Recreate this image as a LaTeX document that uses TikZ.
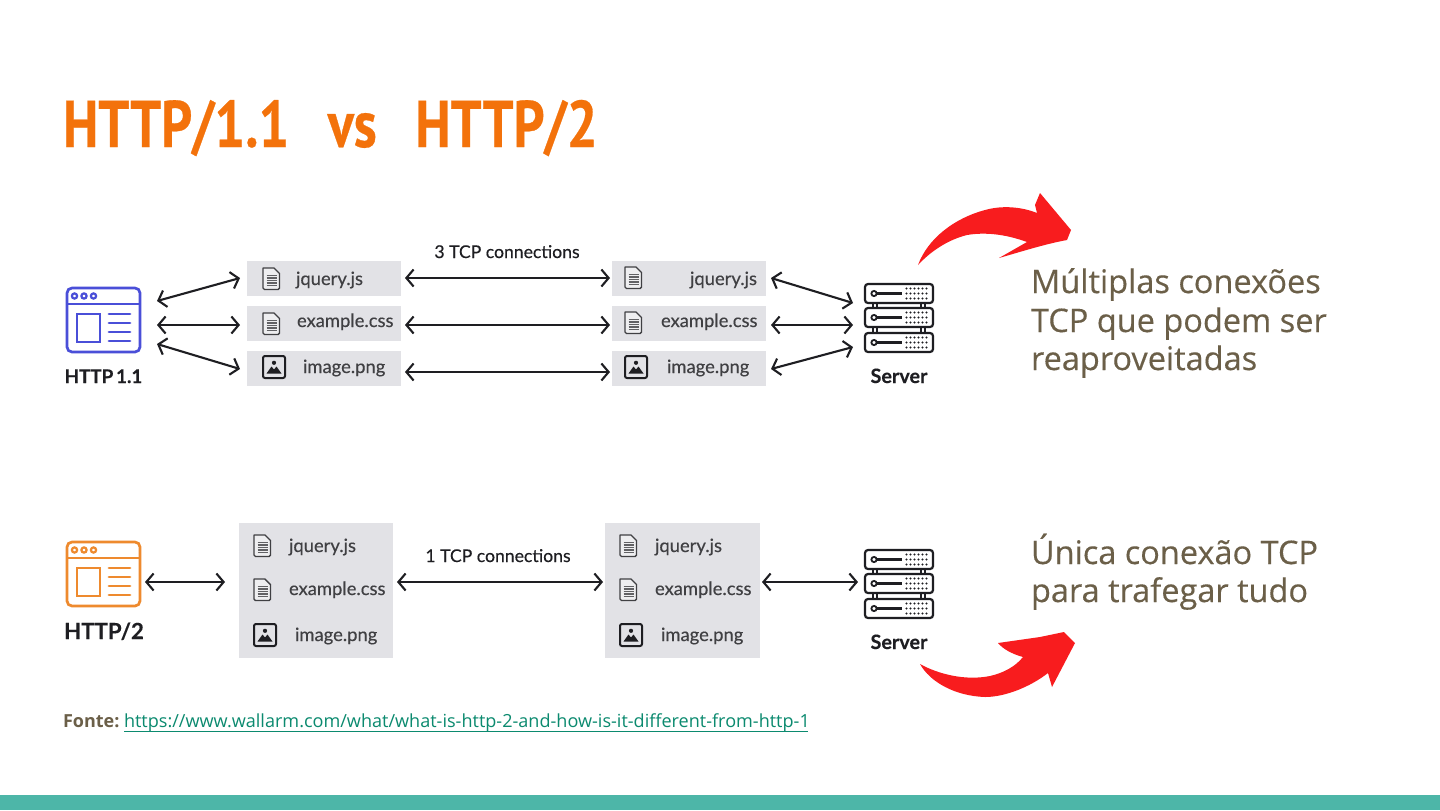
\documentclass[tikz,border=0pt]{standalone}
\usepackage{fontspec}
\usetikzlibrary{arrows.meta}
\setmainfont{Open Sans}
\newfontfamily\titlefont[FakeStretch=0.823,FakeBold=0.4]{PT Sans}
\newfontfamily\diagfont[FakeBold=0.35]{Lato}
\newfontfamily\headfont[FakeBold=0.3]{Lato}
\newfontfamily\bodyfont[FakeBold=0.3]{Open Sans}
\definecolor{titleorange}{HTML}{F3720B}
\definecolor{bodybrown}{HTML}{6B5F48}
\definecolor{linkgreen}{HTML}{0B8A6F}
\definecolor{barteal}{HTML}{4DB6A8}
\definecolor{boxgray}{HTML}{E2E2E6}
\definecolor{ink}{HTML}{1E1E22}
\definecolor{blueicon}{HTML}{4A4FD8}
\definecolor{orangeicon}{HTML}{EE8A2E}
\definecolor{arrowred}{HTML}{F81C1E}
\tikzset{
  x=0.5pt,y=-0.5pt,
  every node/.style={inner sep=0pt,outer sep=0pt},
  filebox/.style={fill=boxgray,draw=none},
  dblarrow/.style={draw=ink,line width=1.05pt,{Straight Barb[length=3.6pt,width=8.5pt,line width=1.05pt]}-{Straight Barb[length=3.6pt,width=8.5pt,line width=1.05pt]}},
  filelabel/.style={anchor=base west,text=ink!85,font=\diagfont\fontsize{9.2}{11}\selectfont},
  tcplabel/.style={anchor=base,text=ink,font=\diagfont\fontsize{8.8}{11}\selectfont},
  iconlabel/.style={anchor=base,text=ink,font=\headfont\bfseries\fontsize{9.9}{11}\selectfont},
  bodytext/.style={anchor=base west,text=bodybrown,font=\bodyfont\fontsize{16.25}{19}\selectfont},
  redarrow/.style={fill=arrowred,draw=none},
  pics/docicon/.style={code={
    \draw[ink!85,line width=0.7pt,line join=round,fill=boxgray!60] (0,0)--(11,0)--(16.5,5.5)--(16.5,20)--(15,21.5)--(1.5,21.5)--(0,20)--cycle;
    \foreach \yy in {7.5,10,12.5,15,17.5}{\draw[ink!70,line width=0.65pt] (3.5,\yy)--(13.5,\yy);}
  }},
  pics/imgicon/.style={code={
    \draw[ink,line width=1pt,rounded corners=1pt] (0,0) rectangle (22,22);
    \fill[ink] (3.5,17.5)--(8.5,10.5)--(11,13.5)--(13.5,10.5)--(18.5,17.5)--cycle;
    \fill[ink] (11,6.8) circle[radius=2.1];
  }},
  pics/browser/.style={code={
    \draw[#1,line width=1.35pt,rounded corners=2.5pt] (0,0) rectangle (73,64);
    \draw[#1,line width=1.35pt] (0,16)--(73,16);
    \foreach \xx in {7.5,17,26.5}{\draw[#1,line width=1.1pt] (\xx,8) circle[radius=2.6];}
    \draw[#1,line width=1.35pt] (10,26) rectangle (33,54);
    \foreach \yy in {26,35,44,53}{\draw[#1,line width=1.35pt,line cap=round] (42,\yy)--(63,\yy);}
  }},
  pics/serverunit/.style={code={
    \draw[ink,line width=1.1pt,rounded corners=1.5pt,fill=white] (0,0) rectangle (68,19);
    \draw[ink,line width=0.9pt] (9,9.5) circle[radius=2.6];
    \draw[ink,line width=1.05pt] (11.6,9.5)--(37,9.5);
    \foreach \yy in {4.5,9.5,14.5}{\foreach \xx in {41.5,45.5,49.5,53.5,57.5,61.5}{\fill[ink] (\xx,\yy) circle[radius=1.15];}}
  }},
  pics/server/.style={code={
    \draw[ink,line width=0.9pt] (8,19)--(8,24) (12,19)--(12,24) (56,19)--(56,24) (60,19)--(60,24);
    \draw[ink,line width=0.9pt] (8,43)--(8,49) (12,43)--(12,49) (56,43)--(56,49) (60,43)--(60,49);
    \pic at (0,0) {serverunit};
    \pic at (0,24) {serverunit};
    \pic at (0,49) {serverunit};
  }},
}
\begin{document}
\begin{tikzpicture}
\useasboundingbox (0,0) rectangle (1440,810);
\fill[white] (0,0) rectangle (1440,810);
\fill[barteal] (0,795) rectangle (1440,810);

\node[anchor=base west,text=titleorange,font=\titlefont\bfseries\fontsize{33}{38}\selectfont] (title) at (63,147) {HTTP/1.1\hspace{0.585em}vs\hspace{0.585em}HTTP/2};

% HTTP/1.1 row
\node[filebox,minimum width=77pt,minimum height=17.5pt,anchor=north west] (l1a) at (247,261) {};
\node[filebox,minimum width=77pt,minimum height=17.5pt,anchor=north west] (l1b) at (247,306) {};
\node[filebox,minimum width=77pt,minimum height=17.5pt,anchor=north west] (l1c) at (247,351) {};
\node[filebox,minimum width=77pt,minimum height=17.5pt,anchor=north west] (r1a) at (612,261) {};
\node[filebox,minimum width=77pt,minimum height=17.5pt,anchor=north west] (r1b) at (612,306) {};
\node[filebox,minimum width=77pt,minimum height=17.5pt,anchor=north west] (r1c) at (612,351) {};
\pic at (263,268) {docicon};
\pic at (263,313) {docicon};
\pic at (263,356) {imgicon};
\pic at (625,267) {docicon};
\pic at (625,312) {docicon};
\pic at (625,356) {imgicon};
\node[filelabel] (t1a) at (296,285) {jquery.js};
\node[filelabel] (t1b) at (297,327) {example.css};
\node[filelabel] (t1c) at (303,373) {image.png};
\node[filelabel] (t1d) at (690,285) {jquery.js};
\node[filelabel] (t1e) at (661,327) {example.css};
\node[filelabel] (t1f) at (667,373) {image.png};
\pic at (67,288) {browser=blueicon};
\node[iconlabel,font=\headfont\bfseries\fontsize{9.4}{11}\selectfont] (h1) at (103.5,383) {HTTP\hspace{0.15em}1.1};
\pic at (865,284) {server};
\node[iconlabel] (s1) at (899,383) {Server};
\node[tcplabel] (c3) at (507,258) {3 TCP connections};

\coordinate (a1) at (157,301); \coordinate (a2) at (240,278);
\coordinate (a3) at (157,325); \coordinate (a4) at (240,325);
\coordinate (a5) at (157,344); \coordinate (a6) at (240,369);
\coordinate (b1) at (405,278); \coordinate (b2) at (610,278);
\coordinate (b3) at (405,325); \coordinate (b4) at (610,325);
\coordinate (b5) at (405,372); \coordinate (b6) at (610,372);
\coordinate (d1) at (771,278); \coordinate (d2) at (853,303);
\coordinate (d3) at (771,325); \coordinate (d4) at (853,325);
\coordinate (d5) at (771,369); \coordinate (d6) at (853,347);
\draw[dblarrow] (a1)--(a2);
\draw[dblarrow] (a3)--(a4);
\draw[dblarrow] (a5)--(a6);
\draw[dblarrow] (b1)--(b2);
\draw[dblarrow] (b3)--(b4);
\draw[dblarrow] (b5)--(b6);
\draw[dblarrow] (d1)--(d2);
\draw[dblarrow] (d3)--(d4);
\draw[dblarrow] (d5)--(d6);

% HTTP/2 row
\node[filebox,minimum width=77pt,minimum height=67.5pt,anchor=north west] (l2) at (239,523) {};
\node[filebox,minimum width=77.5pt,minimum height=67.5pt,anchor=north west] (r2) at (605,523) {};
\pic at (254,535) {docicon};
\pic at (254,579) {docicon};
\pic at (254,624) {imgicon};
\pic at (620,535) {docicon};
\pic at (620,579) {docicon};
\pic at (620,624) {imgicon};
\node[filelabel] (t2a) at (289,552) {jquery.js};
\node[filelabel] (t2b) at (289,595) {example.css};
\node[filelabel] (t2c) at (295,641) {image.png};
\node[filelabel] (t2d) at (655,552) {jquery.js};
\node[filelabel] (t2e) at (655,595) {example.css};
\node[filelabel] (t2f) at (661,641) {image.png};
\pic at (67,542) {browser=orangeicon};
\node[iconlabel,font=\headfont\bfseries\fontsize{11.1}{13}\selectfont] (h2) at (104,639) {HTTP/2};
\pic at (865,550) {server};
\node[iconlabel] (s2) at (899,649) {Server};
\node[tcplabel] (c1) at (498,562) {1 TCP connections};

\coordinate (e1) at (145,582); \coordinate (e2) at (225,582);
\coordinate (f1) at (397,582); \coordinate (f2) at (603,582);
\coordinate (g1) at (762,582); \coordinate (g2) at (858,582);
\draw[dblarrow] (e1)--(e2);
\draw[dblarrow] (f1)--(f2);
\draw[dblarrow] (g1)--(g2);

% red arrows
\fill[redarrow] (918,265) .. controls (928,238) and (955,218) .. (985,210)
  .. controls (1003,205) and (1022,207) .. (1037,213)
  -- (1035,205) -- (1040,193) -- (1071,230) -- (1067,240)
  .. controls (1045,244) and (1020,252) .. (999,258)
  -- (1027,242)
  .. controls (1005,234) and (985,232) .. (967,235)
  .. controls (947,240) and (930,252) .. cycle;
\fill[redarrow] (920,664) .. controls (938,674) and (965,681) .. (990,676)
  .. controls (1003,673) and (1015,667) .. (1023,657)
  .. controls (1012,654) and (1003,649) .. (998,643)
  -- (1040,637) -- (1064,632) -- (1075,643)
  -- (1052,687) -- (1048,673)
  .. controls (1030,687) and (1005,697) .. (985,697)
  .. controls (955,696) and (930,682) .. cycle;

% side text
\node[bodytext] (m1) at (1031,293) {Múltiplas conexões};
\node[bodytext] (m2) at (1031,332) {TCP que podem ser};
\node[bodytext] (m3) at (1031,370) {reaproveitadas};
\node[bodytext] (u1) at (1031,564) {Única conexão TCP};
\node[bodytext] (u2) at (1031,602) {para trafegar tudo};

% source
\node[anchor=base west,text=bodybrown,font=\bfseries\fontsize{9}{11}\selectfont] (fonte) at (63,727) {Fonte:};
\node[anchor=base west,text=linkgreen,font=\fontsize{9.03}{11}\selectfont] (link) at (124,727) {https://www.wallarm.com/what/what-is-http-2-and-how-is-it-different-from-http-1};
\coordinate (lu1) at (124,731); \coordinate (lu2) at (808,731);
\draw[linkgreen,line width=0.45pt] (lu1)--(lu2);
\end{tikzpicture}
\end{document}
